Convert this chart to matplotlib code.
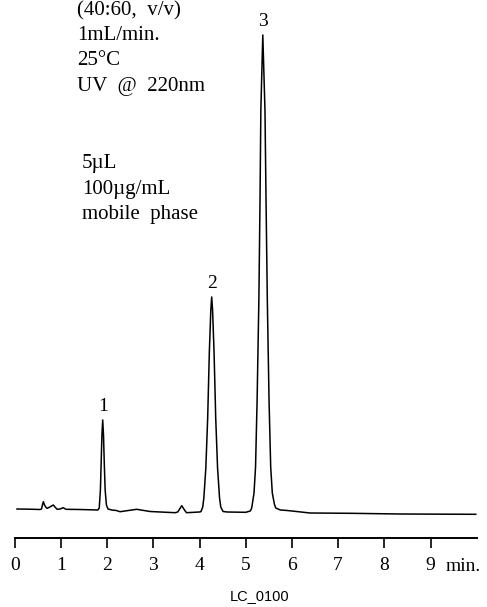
import matplotlib
matplotlib.use('Agg')
import matplotlib.pyplot as plt

# chromatogram trace (time in min, signal in arbitrary units)
times = [0.05, 0.33, 0.55, 0.58, 0.60, 0.62, 0.645, 0.68, 0.705, 0.76, 0.835, 0.88, 0.92,
         0.98, 1.05, 1.11, 1.41, 1.80,
         1.83, 1.855, 1.87, 1.888, 1.905, 1.922, 1.94, 1.958, 1.985, 2.02, 2.10, 2.20,
         2.28, 2.64, 2.93, 3.47, 3.53, 3.615, 3.69, 3.72, 4.00,
         4.03, 4.07, 4.094, 4.137, 4.177, 4.213, 4.245, 4.264, 4.283, 4.315, 4.351,
         4.391, 4.434, 4.46, 4.51, 4.60, 5.00,
         5.10, 5.13, 5.18, 5.213, 5.247, 5.285, 5.31, 5.328, 5.37, 5.417, 5.44, 5.468,
         5.505, 5.541, 5.576, 5.62, 5.65, 5.75, 5.90, 6.10, 6.39, 7.26, 8.34, 9.98]
signal = [6.0, 5.8, 5.5, 6.0, 10.0, 13.3, 10.0, 7.5, 6.7, 8.0, 10.0, 7.5, 5.7,
          6.0, 7.3, 5.7, 5.5, 5.0,
          7.0, 25.0, 50.0, 80.0, 95.0, 80.0, 50.0, 25.0, 10.0, 6.0, 5.0, 4.5,
          3.3, 5.7, 3.5, 2.3, 3.0, 9.3, 4.0, 2.3, 3.0,
          3.3, 8.0, 17.0, 47.0, 97.0, 163.0, 205.0, 218.0, 205.0, 163.0, 97.0,
          47.0, 17.0, 8.0, 3.5, 3.0, 2.7,
          4.0, 7.0, 22.0, 48.0, 115.0, 215.0, 315.0, 405.0, 480.0, 405.0, 315.0, 215.0,
          115.0, 48.0, 22.0, 11.0, 7.0, 5.0, 4.5, 3.5, 2.0, 1.7, 1.0, 0.7]

peak_labels = ['1', '2', '3']
peak_times = [1.905, 4.264, 5.37]
peak_heights = [95.0, 218.0, 480.0]

xticks = [0, 1, 2, 3, 4, 5, 6, 7, 8, 9]

conditions = ['(40:60,  v/v)', '1mL/min.', '25\u00b0C', 'UV  @  220nm']
sample = ['5\u00b5L', '100\u00b5g/mL', 'mobile  phase']

W, H = 487, 607
fig = plt.figure(figsize=(W / 100, H / 100), dpi=100)
ax = fig.add_axes([14.7 / W, (H - 538) / H, 462 / W, 538 / H])

ax.plot(times, signal, color='black', lw=1.1)
ax.set_xlim(0, 10)
ax.set_ylim(-23, 515)

for lab, t, h in zip(peak_labels, peak_times, peak_heights):
    ax.text(t, h + 9, lab, ha='center', va='baseline', fontsize=14,
            family='Liberation Serif')

for s in ['left', 'right', 'top']:
    ax.spines[s].set_visible(False)
ax.spines['bottom'].set_linewidth(1.4)
ax.set_yticks([])
ax.set_xticks(xticks)
ax.set_xticklabels([str(x) for x in xticks], family='Liberation Serif', fontsize=14)
ax.tick_params(axis='x', direction='out', length=7.2, width=1.2, pad=6.5)

ax.text(9.335, -55.7, 'min.', ha='left', va='baseline', fontsize=14,
        family='Liberation Serif', clip_on=False)

for i, line in enumerate(conditions):
    fig.text(77.3 / W, 1 - (15 + 25.2 * i) / H, line, ha='left', va='baseline',
             fontsize=15, family='Liberation Serif')
for i, line in enumerate(sample):
    fig.text(81.7 / W, 1 - (168.3 + 25.4 * i) / H, line, ha='left', va='baseline',
             fontsize=15, family='Liberation Serif')

fig.text(260 / W, 1 - 600 / H, 'LC_0100', ha='center', va='baseline',
         fontsize=10.5, family='Liberation Sans')

fig.savefig('out.png', dpi=100)
